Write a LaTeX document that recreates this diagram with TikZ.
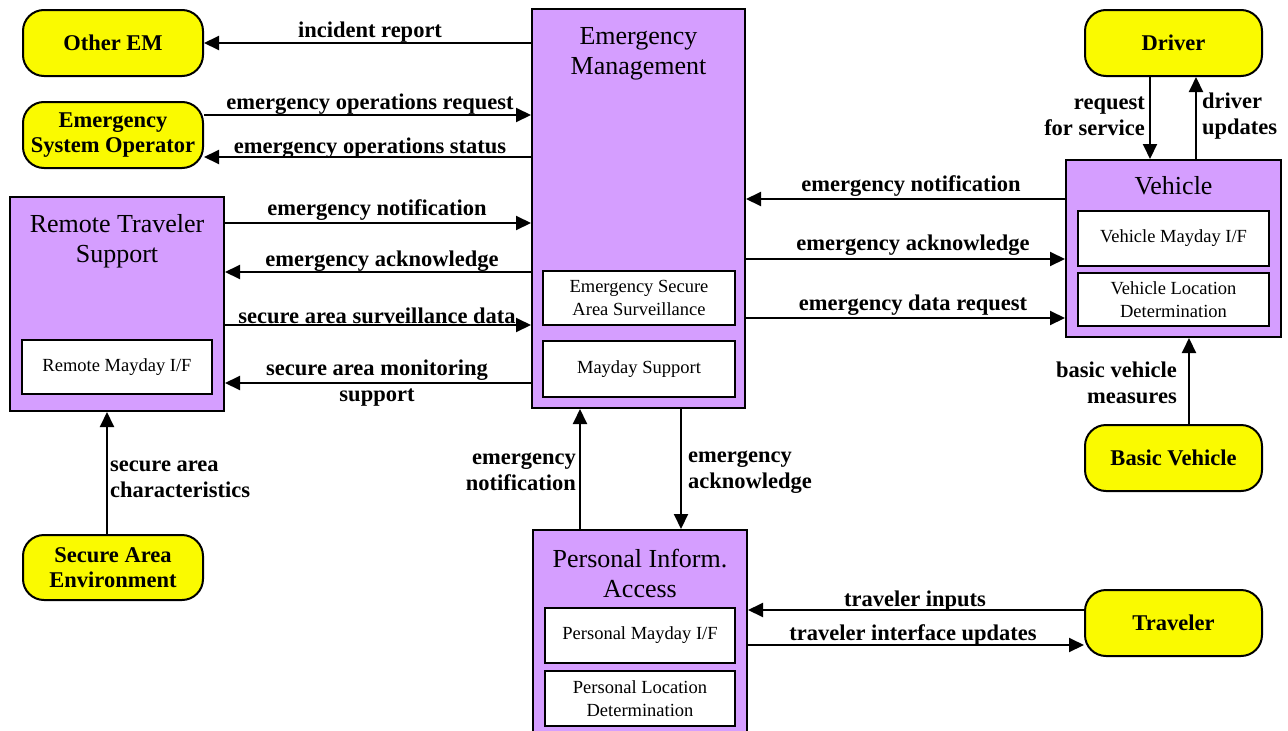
\documentclass[tikz,border=0pt]{standalone}
\usepackage{fontspec}
\setmainfont{Liberation Serif}
\usetikzlibrary{arrows.meta}
\definecolor{pur}{RGB}{213,158,255}
\definecolor{yel}{RGB}{250,250,0}
\begin{document}
\begin{tikzpicture}[x=1pt,y=-1pt,
  ext/.style={draw, line width=2pt, rounded corners=21pt, fill=yel, minimum width=180pt, minimum height=66pt, inner sep=0pt, align=center, font=\fontsize{22.5}{25}\selectfont\bfseries},
  pbox/.style={draw, line width=2pt, fill=pur, inner sep=0pt},
  ibox/.style={draw, line width=1.8pt, fill=white, inner sep=0pt, align=center, font=\fontsize{18.5}{23}\selectfont},
  ttl/.style={inner sep=0pt, align=center, font=\fontsize{26}{30}\selectfont},
  lab/.style={inner sep=0pt, align=center, font=\fontsize{22.5}{26}\selectfont\bfseries},
  arr/.style={line width=2pt, -{Triangle[length=15pt,width=14pt]}}]
\useasboundingbox (0,0) rectangle (1288,731);
\clip (0,0) rectangle (1288,731);
% external nodes
\node[ext] (oem) at (113,43) {Other EM};
\node[ext] (eso) at (113,135) {Emergency\\System Operator};
\node[ext, minimum height=65pt] (sae) at (113,567.5) {Secure Area\\Environment};
\node[ext, minimum width=177pt] (drv) at (1173.5,43) {Driver};
\node[ext, minimum width=177pt] (bv) at (1173.5,458) {Basic Vehicle};
\node[ext, minimum width=177pt] (trv) at (1173.5,623) {Traveler};
% subsystems
\node[pbox, minimum width=214pt, minimum height=214pt] (rts) at (117,304) {};
\node[ttl] (rtst) at (117,241) {Remote Traveler\\Support};
\node[ibox, minimum width=190pt, minimum height=54pt] (rmi) at (117,367) {Remote Mayday I/F};
\node[pbox, minimum width=213pt, minimum height=399pt] (em) at (638.5,208.5) {};
\node[ttl] (emt) at (638.5,54) {Emergency\\Management};
\node[ibox, minimum width=192pt, minimum height=54pt] (esas) at (639,298) {Emergency Secure\\Area Surveillance};
\node[ibox, minimum width=192pt, minimum height=56pt] (ms) at (639,369) {Mayday Support};
\node[pbox, minimum width=214pt, minimum height=220pt] (pia) at (640,640) {};
\node[ttl] (piat) at (640,573) {Personal Inform.\\Access};
\node[ibox, minimum width=190pt, minimum height=55pt] (pmi) at (640,635.5) {Personal Mayday I/F};
\node[ibox, minimum width=190pt, minimum height=55pt] (pld) at (640,698.5) {Personal Location\\Determination};
\node[pbox, minimum width=215pt, minimum height=177pt] (veh) at (1173.5,248.5) {};
\node[ttl] (veht) at (1173.5,186) {Vehicle};
\node[ibox, minimum width=191pt, minimum height=55pt] (vmi) at (1173.5,238.5) {Vehicle Mayday I/F};
\node[ibox, minimum width=191pt, minimum height=53pt] (vld) at (1173.5,299.5) {Vehicle Location\\Determination};
% connectors
\draw[arr] (em.west |- oem.east) -- (oem.east);
\draw[arr] (eso.east |- 0,115) -- (em.west |- 0,115);
\draw[arr] (em.west |- 0,157) -- (eso.east |- 0,157);
\draw[arr] (rts.east |- 0,223) -- (em.west |- 0,223);
\draw[arr] (em.west |- 0,272) -- (rts.east |- 0,272);
\draw[arr] (rts.east |- 0,325) -- (em.west |- 0,325);
\draw[arr] (em.west |- 0,383) -- (rts.east |- 0,383);
\draw[arr] (sae.north -| 107,0) -- (rts.south -| 107,0);
\draw[arr] (veh.west |- 0,199) -- (em.east |- 0,199);
\draw[arr] (em.east |- 0,259) -- (veh.west |- 0,259);
\draw[arr] (em.east |- 0,318) -- (veh.west |- 0,318);
\draw[arr] (drv.south -| 1150,0) -- (veh.north -| 1150,0);
\draw[arr] (veh.north -| 1196,0) -- (drv.south -| 1196,0);
\draw[arr] (bv.north -| 1189,0) -- (veh.south -| 1189,0);
\draw[arr] (pia.north -| 580,0) -- (em.south -| 580,0);
\draw[arr] (em.south -| 681,0) -- (pia.north -| 681,0);
\draw[arr] (trv.west |- 0,610) -- (pia.east |- 0,610);
\draw[arr] (pia.east |- 0,645) -- (trv.west |- 0,645);
% labels
\node[lab] (l1) at (370,32) {incident report};
\node[lab] (l2) at (370,104) {emergency operations request};
\node[lab] (l3) at (370,148) {emergency operations status};
\node[lab] (l4) at (377,210) {emergency notification};
\node[lab] (l5) at (382,261) {emergency acknowledge};
\node[lab] (l6) at (377,316) {secure area surveillance data};
\node[lab] (l7) at (377,383) {secure area monitoring\\support};
\node[lab, align=left, anchor=west] (l8) at (110,479) {secure area\\characteristics};
\node[lab] (l9) at (911,186) {emergency notification};
\node[lab] (l10) at (913,245) {emergency acknowledge};
\node[lab] (l11) at (913,305) {emergency data request};
\node[lab, align=right, anchor=east] (l12) at (1145,116) {request\\for service};
\node[lab, align=left, anchor=west] (l13) at (1202,116) {driver\\updates};
\node[lab, align=right, anchor=east] (l14) at (1177,383) {basic vehicle\\measures};
\node[lab, align=right, anchor=east] (l15) at (576,472) {emergency\\notification};
\node[lab, align=left, anchor=west] (l16) at (688,472) {emergency\\acknowledge};
\node[lab] (l17) at (915,601) {traveler inputs};
\node[lab] (l18) at (913,635) {traveler interface updates};
\end{tikzpicture}
\end{document}
